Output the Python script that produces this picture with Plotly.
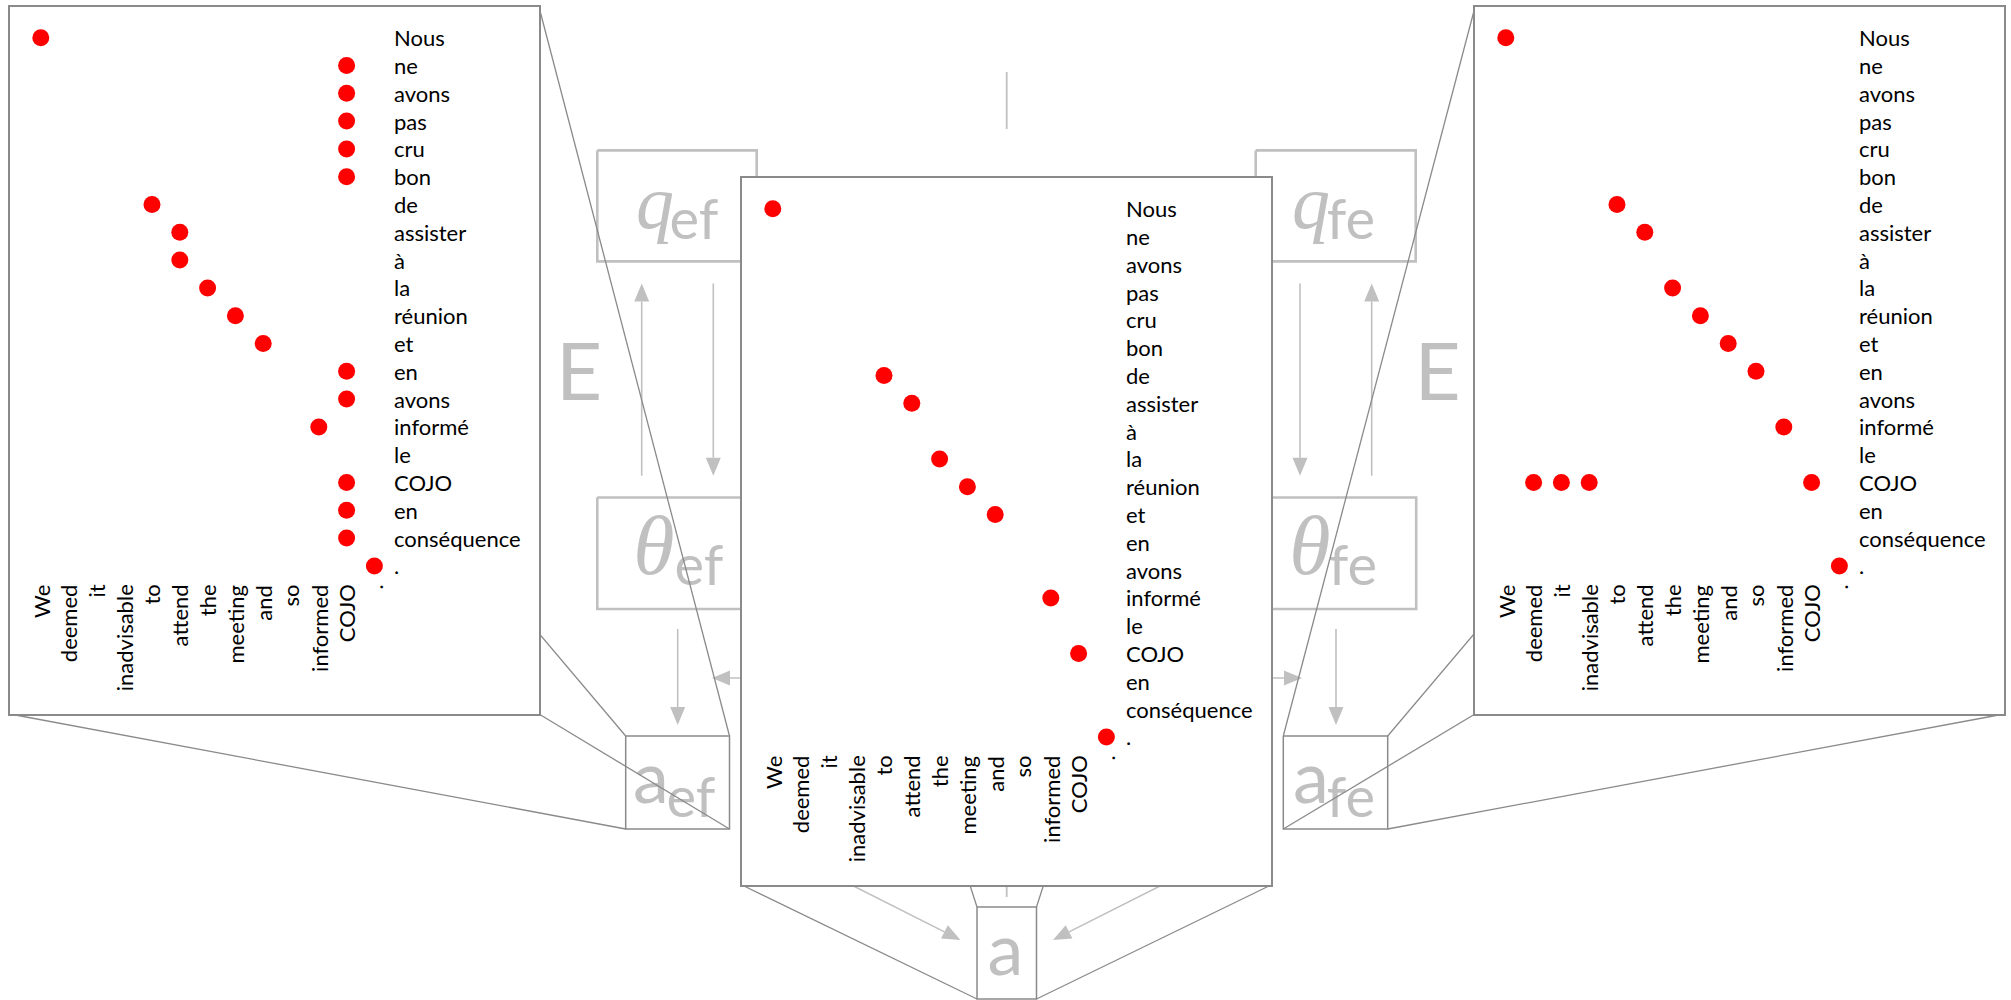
import math
import plotly.graph_objects as go

# Sentence pair
english = ["We", "deemed", "it", "inadvisable", "to", "attend", "the",
           "meeting", "and", "so", "informed", "COJO", "."]
french = ["Nous", "ne", "avons", "pas", "cru", "bon", "de", "assister", "à",
          "la", "réunion", "et", "en", "avons", "informé", "le", "COJO", "en",
          "conséquence", "."]

# Alignment links (english index, french index)
ef_en = [0, 11, 11, 11, 11, 11, 4, 5, 5, 6, 7, 8, 11, 11, 10, 11, 11, 11, 12]
ef_fr = [0, 1, 2, 3, 4, 5, 6, 7, 8, 9, 10, 11, 12, 13, 14, 16, 17, 18, 19]

fe_en = [0, 4, 5, 6, 7, 8, 9, 10, 1, 2, 3, 11, 12]
fe_fr = [0, 6, 7, 9, 10, 11, 12, 14, 16, 16, 16, 16, 19]

sym_en = [0, 4, 5, 6, 7, 8, 10, 11, 12]
sym_fr = [0, 6, 7, 9, 10, 11, 14, 16, 19]

# Page geometry (pixels)
W, H = 2011, 1000
LIGHT = "#c0c0c0"
DARK = "#8a8a8a"
CELL = 27.8                 # pixel size of one alignment cell
OFF_X, OFF_Y = 30.8, 30.7   # first cell centre inside a panel
PW, PH = 529, 707           # panel size
FR_X = 12.63                # french labels column (cell units)
EN_Y = 19.6                 # top of the english labels (cell units)
LABEL_FONT = dict(family="Lato", size=22, color="black")

fig = go.Figure()


def bg_line(xs, ys, color, width):
    fig.add_trace(go.Scatter(x=xs, y=ys, mode="lines",
                             line=dict(color=color, width=width),
                             hoverinfo="skip", showlegend=False,
                             xaxis="x", yaxis="y"))


def bg_rect(x0, y0, x1, y1, color, width):
    bg_line([x0, x1, x1, x0, x0], [y0, y0, y1, y1, y0], color, width)


def bg_arrow(tail, tip, color=LIGHT, width=1.6, L=18, Wd=15):
    dx, dy = tip[0] - tail[0], tip[1] - tail[1]
    n = math.hypot(dx, dy)
    ux, uy = dx / n, dy / n
    bx, by = tip[0] - ux * L, tip[1] - uy * L
    px, py = -uy * Wd / 2, ux * Wd / 2
    bg_line([tail[0], bx], [tail[1], by], color, width)
    fig.add_trace(go.Scatter(x=[tip[0], bx + px, bx - px, tip[0]],
                             y=[tip[1], by + py, by - py, tip[1]],
                             mode="lines", fill="toself", fillcolor=color,
                             line=dict(color=color, width=0),
                             hoverinfo="skip", showlegend=False,
                             xaxis="x", yaxis="y"))


def bg_text(x, baseline, text, size, family="Lato"):
    # scatter "middle center" text sits with its baseline 0.25em below the point
    fig.add_trace(go.Scatter(x=[x], y=[baseline - 0.25 * size], mode="text",
                             text=[text], textposition="middle center",
                             textfont=dict(family=family, size=size, color=LIGHT),
                             hoverinfo="skip", showlegend=False,
                             xaxis="x", yaxis="y"))


# ---- background model diagram -------------------------------------------
for (x0, x1) in [(597.3, 756.7), (1255.7, 1415.7)]:
    bg_rect(x0, 150.4, x1, 261.4, LIGHT, 2.6)
    bg_rect(x0, 497.5, x1 + 0.5, 609, LIGHT, 2.6)

bg_arrow((641.7, 475.7), (641.7, 283.5))
bg_arrow((713.3, 283.5), (713.3, 475.7))
bg_arrow((677.7, 629), (677.7, 725))
bg_arrow((770, 678), (712, 678))

bg_arrow((1300, 283.5), (1300, 475.7))
bg_arrow((1371.7, 475.7), (1371.7, 283.5))
bg_arrow((1336, 629), (1336, 725))
bg_arrow((1245, 678), (1302, 678))

bg_arrow((794, 856), (960.5, 940))
bg_arrow((1219.5, 856), (1053, 940))
bg_line([1006.7, 1006.7], [72, 129], LIGHT, 1.8)
bg_line([1006.7, 1006.7], [860, 897], LIGHT, 1.8)

SERIF = "Liberation Serif"
# left column: q_ef, E, theta_ef, a_ef
bg_text(655, 228, "<i>q</i>", 76, SERIF)
bg_text(694, 239, "ef", 56)
bg_text(579, 400, "E", 80)
bg_text(654, 574, "<i>θ</i>", 84, SERIF)
bg_text(699, 585, "ef", 56)
bg_text(651, 803, "a", 72)
bg_text(691, 816.7, "ef", 56)
# right column: q_fe, E, theta_fe, a_fe
bg_text(1311, 228, "<i>q</i>", 76, SERIF)
bg_text(1351, 239, "fe", 56)
bg_text(1437.5, 400, "E", 80)
bg_text(1310, 574, "<i>θ</i>", 84, SERIF)
bg_text(1353, 585, "fe", 56)
bg_text(1311, 803, "a", 72)
bg_text(1351, 816.7, "fe", 56)
# bottom: symmetrised a
bg_text(1005.5, 975, "a", 72)

# ---- panels -------------------------------------------------------------
panels = [
    (10, 7, ef_en, ef_fr, (625.7, 736, 729.5, 829)),
    (742, 178, sym_en, sym_fr, (977, 907, 1036.5, 999)),
    (1475, 7, fe_en, fe_fr, (1283.3, 736, 1387.7, 829)),
]

annotations = []
layout_axes = {
    "xaxis": dict(domain=[0, 1], range=[0, W], visible=False, fixedrange=True),
    "yaxis": dict(domain=[0, 1], range=[H, 0], visible=False, fixedrange=True),
}

# magnifier lines from each source box to its panel corners
for (px0, py0, en, fr, box) in panels:
    bx0, by0, bx1, by1 = box
    px1, py1 = px0 + PW, py0 + PH
    bg_line([px0, bx0], [py0, by0], DARK, 1.3)
    bg_line([px1, bx1], [py0, by0], DARK, 1.3)
    bg_line([px0, bx0], [py1, by1], DARK, 1.3)
    bg_line([px1, bx1], [py1, by1], DARK, 1.3)
    bg_rect(bx0, by0, bx1, by1, DARK, 1.5)

xr = [-OFF_X / CELL, (PW - OFF_X) / CELL]
yr = [(PH - OFF_Y) / CELL, -OFF_Y / CELL]

for k, (px0, py0, en, fr, box) in enumerate(panels, start=2):
    xa, ya = f"x{k}", f"y{k}"
    # opaque panel face
    fig.add_trace(go.Scatter(x=[xr[0], xr[1], xr[1], xr[0], xr[0]],
                             y=[yr[0], yr[0], yr[1], yr[1], yr[0]],
                             mode="lines", fill="toself", fillcolor="white",
                             line=dict(width=0), hoverinfo="skip",
                             showlegend=False, xaxis=xa, yaxis=ya))
    fig.add_trace(go.Scatter(x=en, y=fr, mode="markers",
                             marker=dict(color="#ff0000", size=17, line=dict(width=0)),
                             hoverinfo="skip", showlegend=False,
                             xaxis=xa, yaxis=ya))
    axis_style = dict(showline=True, mirror=True, linecolor=DARK, linewidth=1.5,
                      showgrid=False, zeroline=False, showticklabels=False,
                      ticks="", fixedrange=True)
    layout_axes[f"xaxis{k}"] = dict(domain=[px0 / W, (px0 + PW) / W], range=xr,
                                    anchor=ya, **axis_style)
    layout_axes[f"yaxis{k}"] = dict(domain=[1 - (py0 + PH) / H, 1 - py0 / H],
                                    range=yr, anchor=xa, **axis_style)
    for j, w in enumerate(french):
        annotations.append(dict(x=FR_X, y=j, xref=xa, yref=ya, text=w,
                                showarrow=False, xanchor="left",
                                yanchor="middle", font=LABEL_FONT))
    for i, w in enumerate(english):
        annotations.append(dict(x=i, y=EN_Y, xref=xa, yref=ya, text=w,
                                showarrow=False, textangle=-90,
                                xanchor="center", yanchor="top",
                                font=LABEL_FONT))

fig.update_layout(width=W, height=H, margin=dict(l=0, r=0, t=0, b=0),
                  paper_bgcolor="white", plot_bgcolor="rgba(0,0,0,0)",
                  showlegend=False, annotations=annotations, **layout_axes)

fig.write_html("out.html", config={"displayModeBar": False})
